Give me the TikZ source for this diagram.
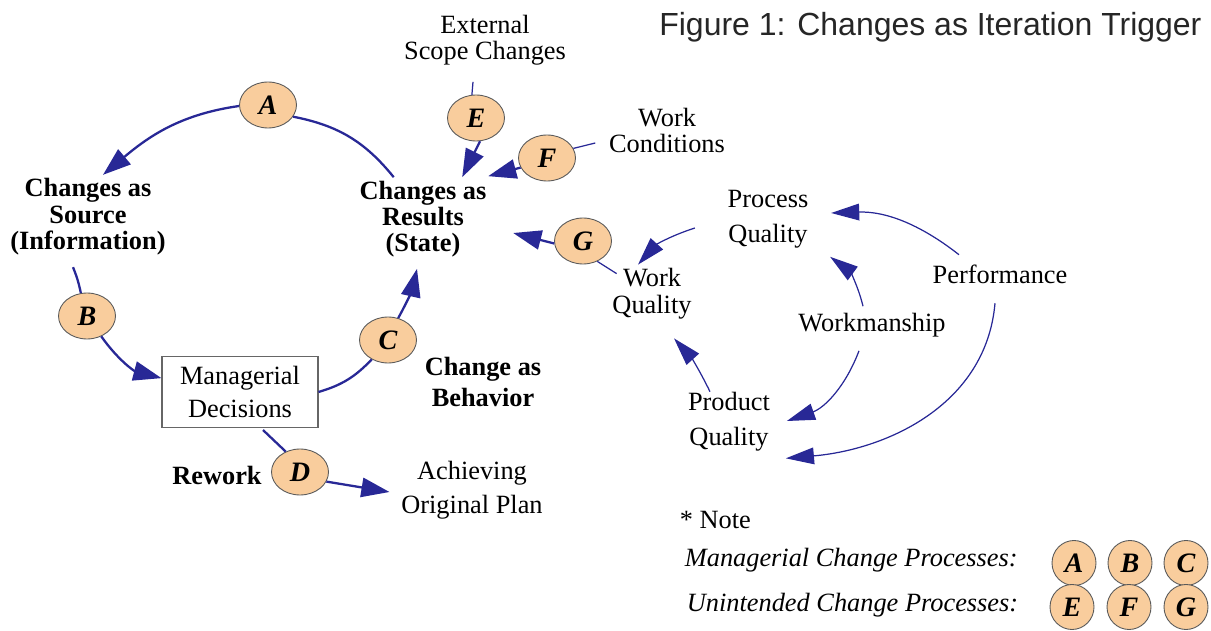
\documentclass[tikz,border=0pt]{standalone}
\usepackage{fontspec}
\setmainfont{Liberation Serif}
\newfontfamily\titlefont{Liberation Sans}
\usetikzlibrary{arrows.meta,shapes.geometric,calc}
\definecolor{peach}{RGB}{249,205,157}
\definecolor{arrblue}{RGB}{40,40,150}
\begin{document}
\begin{tikzpicture}[x=0.02cm,y=-0.02cm,
  lbl/.style={align=center,inner sep=2pt,font=\fontsize{15}{#1}\selectfont},
  lbl/.default=15.4pt,
  blbl/.style={align=center,inner sep=2pt,font=\fontsize{15}{#1}\selectfont\bfseries},
  blbl/.default=14.8pt,
  proc/.style={ellipse,draw=black!65,line width=0.5pt,fill=peach,minimum width=1.14cm,minimum height=0.92cm,inner sep=0pt,font=\fontsize{16}{16}\selectfont\bfseries\itshape},
  leg/.style={proc,minimum width=0.88cm,minimum height=0.9cm},
  mainline/.style={draw=arrblue,line width=1.3pt},
  mainarr/.style={mainline,-{Triangle[length=16pt,width=11pt]}},
  thinline/.style={draw=arrblue,line width=0.7pt},
  thinarr/.style={thinline,-{Triangle[length=16pt,width=9.5pt]}}
]
\useasboundingbox (0,0) rectangle (1211,631);

% labels
\node[blbl] (res) at (423,219) {Changes as\\Results\\(State)};
\node[blbl=15pt] (src) at (88,217) {Changes as\\Source\\(Information)};
\node[lbl=14.8pt] (ext) at (485,40) {External\\Scope Changes};
\node[lbl=14.8pt] (cond) at (667,130) {Work\\Conditions};
\node[lbl=19.9pt] (pq) at (768,219) {Process\\Quality};
\node[lbl] (perf) at (1000,274) {Performance};
\node[lbl] (wq) at (652,294) {Work\\Quality};
\node[lbl] (wm) at (872,325) {Workmanship};
\node[lbl=19.9pt] (prq) at (729,422) {Product\\Quality};
\node[lbl=18.8pt,draw=black!60,line width=0.6pt,minimum width=3.12cm,minimum height=1.42cm] (box) at (240,392) {Managerial\\Decisions};
\node[blbl=17.6pt] (beh) at (483,382) {Change as\\Behavior};
\node[blbl] (rew) at (217,475) {Rework};
\node[lbl=19.3pt] (plan) at (472,490) {Achieving\\Original Plan};

% process ellipses
\node[proc] (A) at (268,105) {A};
\node[proc] (B) at (87,316) {B};
\node[proc] (C) at (388,340) {C};
\node[proc] (D) at (300,472) {D};
\node[proc] (E) at (476,118) {E};
\node[proc] (F) at (547,158) {F};
\node[proc] (G) at (583,241) {G};

% title
\node[anchor=west,inner sep=0pt,text=black!85,font=\titlefont\fontsize{18.2}{18.2}\selectfont] (title) at (659,27) {Figure 1: Changes as Iteration Trigger};

% legend
\node[lbl,anchor=west] (note) at (676,520) {* Note};
\node[lbl,anchor=west] (mcp) at (681,560) {\itshape Managerial Change Processes:};
\node[lbl,anchor=west] (ucp) at (683,605) {\itshape Unintended Change Processes:};
\node[leg] (lA) at (1074,563) {A};
\node[leg] (lB) at (1130,563) {B};
\node[leg] (lC) at (1186,563) {C};
\node[leg] (lE) at (1072,607) {E};
\node[leg] (lF) at (1129,607) {F};
\node[leg] (lG) at (1186,607) {G};

% main loop
\draw[mainline] (res.125) to[bend right=20] (A.-25);
\draw[mainarr] (A.182) to[out=188,in=40] ($(src.north)+(15,0)$);
\draw[mainline] ($(src.south)+(-15,8)$) to[bend left=5] (B.105);
\draw[mainarr] (B.-55) to[bend right=20] (box.170);
\draw[mainline] (box.east) to[bend right=15] (C.230);
\draw[mainarr] (C.65) to[bend right=8] ($(res.south)+(-6,8)$);

% external influences
\draw[thinline] ($(ext.south)+(-12,13)$) -- (E.100);
\draw[mainarr] (E.-80) -- ($(res.north east)+(-28,0)$);
\draw[thinline] ($(cond.west)+(-10,13)$) -- (F.20);
\draw[mainarr] (F.200) -- ($(res.north east)+(-2,-1)$);
\draw[thinline] ($(wq.north west)+(8,9)$) -- (G.-55);
\draw[mainarr] (G.185) -- ($(res.east)+(23,14)$);

% quality cluster
\draw[thinarr] ($(pq.west)+(-29,9)$) to[bend right=15] ($(wq.north)+(-14,0)$);
\draw[thinarr] ($(prq.north)+(-19,3)$) to[bend right=8] ($(wq.south)+(22,15)$);
\draw[thinarr] ($(wm.north)+(-9,-3)$) to[bend right=20] ($(pq.south east)+(18,5)$);
\draw[thinarr] ($(wm.south)+(-13,10)$) to[bend left=25] ($(prq.east)+(13,-1)$);
\draw[thinarr] ($(perf.north)+(-41,-6)$) to[bend right=20] ($(pq.east)+(19,-6)$);
\draw[thinarr] ($(perf.south)+(-5,16)$) to[out=-95,in=5] ($(prq.south east)+(12,3)$);

% rework
\draw[mainline] ($(box.south)+(23,2)$) -- (D.125);
\draw[mainarr] (D.-20) -- ($(plan.west)+(-8,2)$);
\end{tikzpicture}
\end{document}
